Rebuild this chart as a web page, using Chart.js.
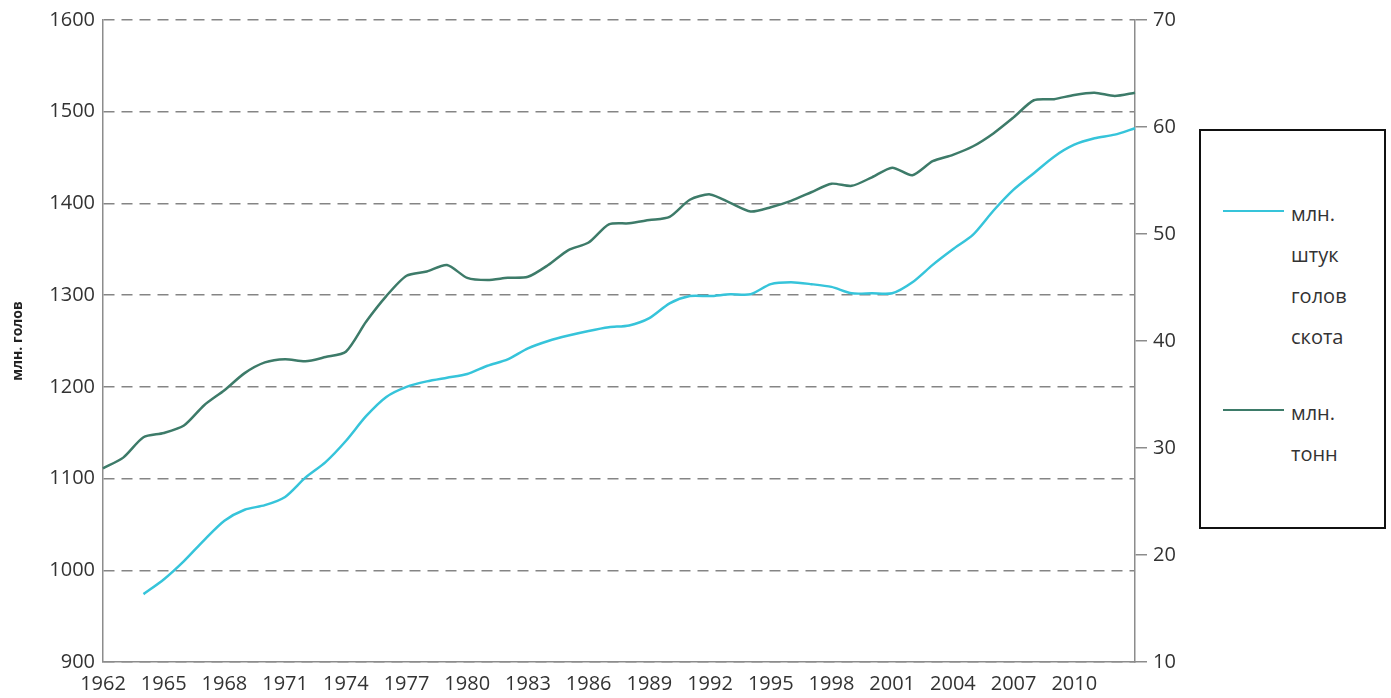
<!DOCTYPE html>
<html>
<head>
<meta charset="utf-8">
<script src="https://cdn.jsdelivr.net/npm/chart.js@4"></script>
<style>
  html, body { margin: 0; padding: 0; background: #fff; }
  #wrap { position: relative; width: 1391px; height: 698px; }
  #legend {
    position: absolute; left: 1199px; top: 129px; width: 183px; height: 396px;
    border: 2px solid #111; background: #fff;
    font-family: 'Open Sans', sans-serif; font-size: 20px; color: #333;
  }
  .item { position: absolute; left: 0; }
  .item .swatch { position: absolute; left: 22px; width: 61px; height: 2px; }
  .item .txt { position: absolute; left: 90px; line-height: 41px; white-space: nowrap; }
</style>
</head>
<body>
<div id="wrap">
  <canvas id="chart" width="1391" height="698"></canvas>
  <div id="legend"></div>
</div>
<script>
// ---- данные ----
const years = [];
for (let y = 1962; y <= 2013; y++) years.push(String(y));

// подписи оси X (каждые 3 года, последняя 2010)
const yearTicks = ['1962', '1965', '1968', '1971', '1974', '1977', '1980', '1983', '1986',
  '1989', '1992', '1995', '1998', '2001', '2004', '2007', '2010'];

// млн. штук голов скота (левая ось)
const cattleHeads = [
  null, null, 974, 990, 1010, 1033, 1054, 1066, 1071, 1080,
  1101, 1118, 1141, 1168, 1189, 1200, 1206, 1210, 1214, 1223,
  1230, 1242, 1250, 1256, 1261, 1265, 1267, 1275, 1291, 1299,
  1299, 1301, 1301, 1312, 1314, 1312, 1309, 1302, 1302, 1302,
  1314, 1333, 1350, 1366, 1392, 1415, 1433, 1451, 1464, 1471,
  1475, 1482
];

// млн. тонн (правая ось)
const meatTons = [
  28.1, 29.1, 31.0, 31.4, 32.1, 34.0, 35.4, 37.0, 38.0, 38.3,
  38.1, 38.5, 39.0, 41.8, 44.2, 46.1, 46.5, 47.1, 45.9, 45.7,
  45.9, 46.0, 47.1, 48.5, 49.2, 50.9, 51.0, 51.3, 51.6, 53.2,
  53.7, 52.9, 52.1, 52.5, 53.1, 53.9, 54.7, 54.5, 55.3, 56.2,
  55.5, 56.8, 57.4, 58.2, 59.4, 60.9, 62.5, 62.6, 63.0, 63.2,
  62.9, 63.2
];

const seriesNames = [['млн.', 'штук', 'голов', 'скота'], ['млн.', 'тонн']];
const seriesColors = ['#36c4da', '#3d7b69'];
const axisTitle = 'млн. голов';

const gridColor = '#858585';
const axisColor = '#8c8c8c';
const font = { family: 'Open Sans', size: 20 };

new Chart(document.getElementById('chart'), {
  type: 'line',
  data: {
    labels: years,
    datasets: [
      {
        label: seriesNames[0].join(' '),
        data: cattleHeads,
        borderColor: seriesColors[0],
        borderWidth: 2.5,
        pointRadius: 0,
        tension: 0.25,
        yAxisID: 'y'
      },
      {
        label: seriesNames[1].join(' '),
        data: meatTons,
        borderColor: seriesColors[1],
        borderWidth: 2.5,
        pointRadius: 0,
        tension: 0.25,
        yAxisID: 'y1'
      }
    ]
  },
  options: {
    responsive: false,
    animation: false,
    layout: { padding: { top: 20, left: 0, right: 0, bottom: 0 } },
    plugins: { legend: { display: false }, tooltip: { enabled: false } },
    scales: {
      x: {
        offset: false,
        grid: { display: false },
        border: { display: true, color: axisColor, width: 1.5 },
        ticks: {
          autoSkip: false, maxRotation: 0, padding: 2,
          color: '#333', font: font,
          callback: (v, i) => (yearTicks.includes(years[i]) ? years[i] : '')
        },
        afterFit: s => { s.height = 36; }
      },
      y: {
        position: 'left',
        min: 900, max: 1600,
        ticks: { stepSize: 100, padding: 8, color: '#333', font: font, callback: v => String(v) },
        grid: { color: gridColor, lineWidth: 1.5, drawTicks: false },
        border: { display: true, color: axisColor, width: 1.5, dash: [11, 7] },
        title: {
          display: true, text: axisTitle, color: '#222',
          font: { family: 'Open Sans', size: 14, weight: 'bold' },
          padding: { top: 10, bottom: 0 }
        },
        afterFit: s => { s.width = 103; }
      },
      y1: {
        position: 'right',
        min: 10, max: 70,
        ticks: { stepSize: 10, padding: 6, color: '#333', font: font },
        grid: { drawOnChartArea: false, drawTicks: true, tickLength: 12, color: axisColor, lineWidth: 1.5 },
        border: { display: true, color: axisColor, width: 1.5 },
        afterFit: s => { s.width = 256; }
      }
    }
  }
});

// ---- легенда ----
const legend = document.getElementById('legend');
const itemTops = [62, 261];
seriesNames.forEach((lines, k) => {
  const item = document.createElement('div');
  item.className = 'item';
  item.style.top = itemTops[k] + 'px';
  const sw = document.createElement('div');
  sw.className = 'swatch';
  sw.style.top = '17px';
  sw.style.background = seriesColors[k];
  const txt = document.createElement('div');
  txt.className = 'txt';
  txt.innerHTML = lines.join('<br>');
  item.appendChild(sw);
  item.appendChild(txt);
  legend.appendChild(item);
});
</script>
</body>
</html>
